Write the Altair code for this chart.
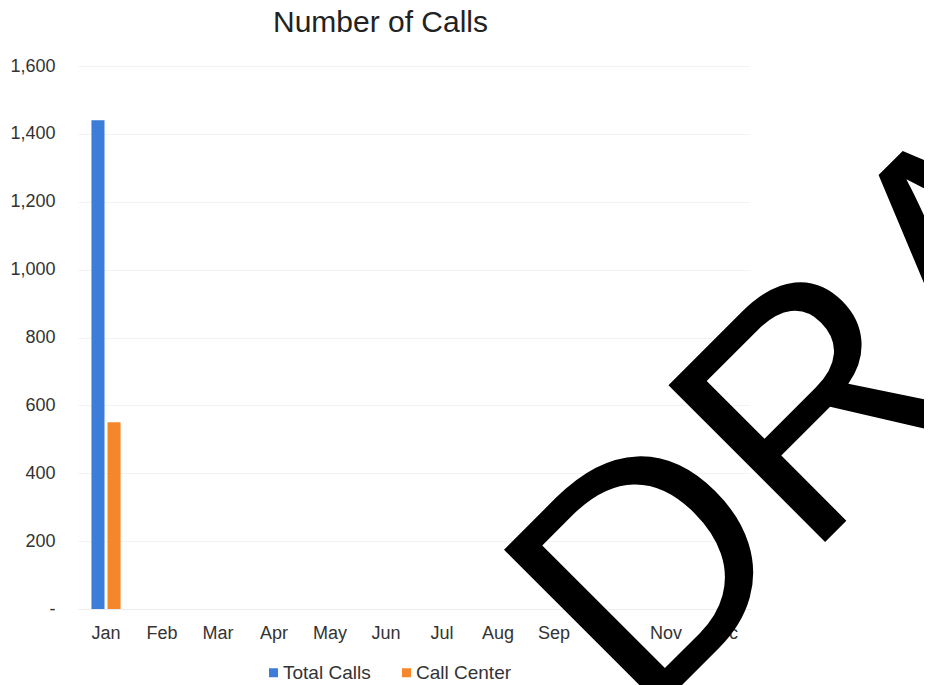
import altair as alt
import pandas as pd

months = ["Jan", "Feb", "Mar", "Apr", "May", "Jun", "Jul", "Aug", "Sep", "Oct", "Nov", "Dec"]
series_names = ["Total Calls", "Call Center"]
total_calls = [1440, None, None, None, None, None, None, None, None, None, None, None]
call_center = [550, None, None, None, None, None, None, None, None, None, None, None]
y_ticks = [0, 200, 400, 600, 800, 1000, 1200, 1400, 1600]
colors = ["#3B7DD8", "#F5872A"]
chart_title = ["Number of Calls"]
watermark = ["DRAFT"]

rows = []
for i, m in enumerate(months):
    rows.append({"month": m, "series": series_names[0], "calls": total_calls[i]})
    rows.append({"month": m, "series": series_names[1], "calls": call_center[i]})
df = pd.DataFrame(rows)

FONT = "Liberation Sans"

bars = alt.Chart(df).mark_bar().encode(
    x=alt.X("month:N", sort=months,
            scale=alt.Scale(domain=months, paddingInner=0.48, paddingOuter=0.24),
            axis=alt.Axis(title=None, labelAngle=0, ticks=False, domain=True,
                          domainColor="#ececec", labelFontSize=18, labelFont=FONT,
                          labelColor="#333333", labelPadding=15, grid=False)),
    xOffset=alt.XOffset("series:N", sort=series_names,
                        scale=alt.Scale(paddingInner=0.1875, paddingOuter=0)),
    y=alt.Y("calls:Q",
            scale=alt.Scale(domain=[0, 1600], nice=False),
            axis=alt.Axis(title=None, values=y_ticks, ticks=False, domain=False,
                          labelFontSize=18, labelFont=FONT, labelColor="#333333",
                          labelPadding=23, gridColor="#f1f3f4", gridWidth=1,
                          labelExpr="datum.value == 0 ? '-\u00a0\u00a0' : format(datum.value, ',')")),
    color=alt.Color("series:N", sort=series_names,
                    scale=alt.Scale(domain=series_names, range=colors),
                    legend=alt.Legend(title=None, orient="none", direction="horizontal",
                                      legendX=186, legendY=597, symbolType="square",
                                      symbolSize=81, symbolStrokeWidth=0,
                                      labelFontSize=19, labelFont=FONT,
                                      labelColor="#333333", labelOffset=0,
                                      columnPadding=26, padding=0)),
)

title_df = pd.DataFrame({"text": chart_title})
title = alt.Chart(title_df).mark_text(
    fontSize=30, font=FONT, align="center", baseline="alphabetic", color="#222222"
).encode(
    text="text:N",
    x=alt.value(302.5),
    y=alt.value(-34),
)

wm_df = pd.DataFrame({"text": watermark})
wm = alt.Chart(wm_df).mark_text(
    angle=315, fontSize=322, font=FONT, align="left", baseline="alphabetic",
    color="black"
).encode(
    text="text:N",
    x=alt.value(564),
    y=alt.value(659),
)

chart = alt.layer(bars, title, wm).properties(
    width=672,
    height=543,
    autosize=alt.AutoSizeParams(type="none"),
    padding={"left": 70, "top": 58, "right": 174, "bottom": 76},
).configure_view(stroke=None)

chart.save("out.html", embed_options={"renderer": "svg", "actions": False})
